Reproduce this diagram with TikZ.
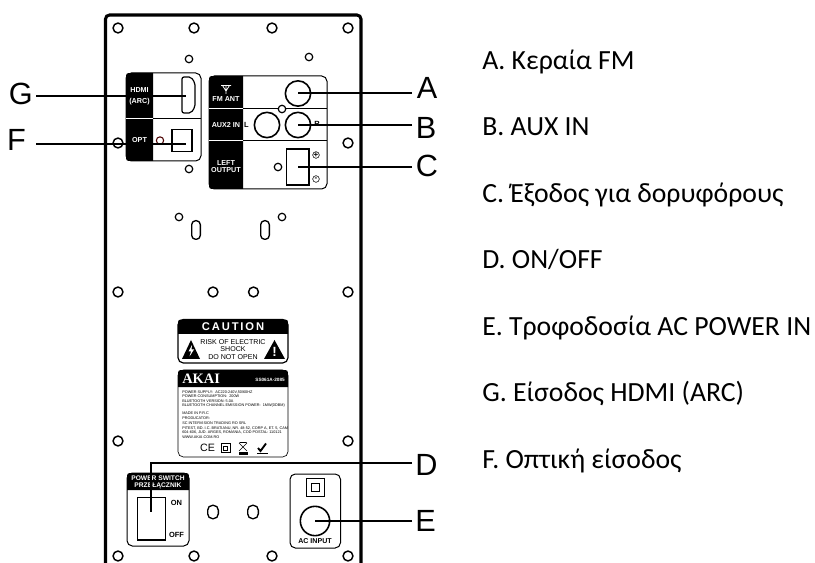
\documentclass[tikz,border=0pt]{standalone}
\usepackage{fontspec}
\setmainfont{Carlito}
\newfontfamily\arialfont{Liberation Sans}
\newfontfamily\akaifont{Liberation Serif}
\usepackage{tikz}
\begin{document}
\begin{tikzpicture}[
  x=0.75pt,y=-0.75pt,
  hole/.style={circle,draw=black,line width=1.1pt,fill=white,minimum size=7.4pt,inner sep=0pt},
  smallhole/.style={circle,draw=black,line width=0.9pt,fill=white,minimum size=5.6pt,inner sep=0pt},
  oblong/.style={rounded corners=3pt,draw=black,line width=1pt,fill=white,minimum width=6.5pt,minimum height=14pt,inner sep=0pt},
  roundslot/.style={rounded corners=3.6pt,draw=black,line width=1pt,fill=white,minimum width=8pt,minimum height=10pt,inner sep=0pt},
  port/.style={circle,draw=black,line width=1.2pt,fill=white,inner sep=0pt},
  panelbox/.style={rounded corners=4pt,draw=black,line width=0.75pt,fill=white},
  paneltext/.style={font=\arialfont\bfseries\fontsize{5.4}{5.4}\selectfont,text=white,align=center,inner sep=0pt},
  darktext/.style={font=\arialfont\bfseries\fontsize{5.6}{6}\selectfont,text=black,align=center,inner sep=0pt},
  letter/.style={font=\arialfont\fontsize{23}{24}\selectfont,inner sep=0pt},
  callout/.style={line width=1.5pt,draw=black},
  legend/.style={font=\fontsize{20.8}{24}\selectfont,anchor=base west,inner sep=0pt}
]
\useasboundingbox (0,0) rectangle (815,563);
% housing
\draw[line width=2.3pt,rounded corners=3pt] (105.5,563) -- (105.5,15) -- (361,15) -- (361,563);
% mounting holes
\foreach \hx/\hy [count=\hi] in {118/28,194/28,272/28,348/28,118/143,348/143,118/292,213/292,253.5/292,348/292,118/441,348/441,118/556,194/556,272/556,348/556}
  \node[hole] (hole\hi) at (\hx,\hy) {};
\foreach \hx/\hy [count=\hi] in {189/59,309/57,189/169}
  \node[smallhole] (pin\hi) at (\hx,\hy) {};
\node[smallhole] (slotpinl) at (179,217) {};
\node[smallhole] (slotpinr) at (282,217) {};
\node[oblong] (slotl) at (196,230) {};
\node[oblong] (slotr) at (265,230) {};
\node[roundslot] (slotc) at (213,512) {};
\node[roundslot] (slotd) at (253,512) {};
% HDMI and OPT plate
\draw[panelbox] (126,73) rectangle (201,161);
\fill[black] (153,73) -- (132,73) .. controls (126,73) .. (126,79) -- (126,155) .. controls (126,161) .. (132,161) -- (153,161) -- cycle;
\draw[white,line width=0.75pt] (126,119) -- (153,119);
\draw[line width=0.75pt] (153,119) -- (201,119);
\node[paneltext] (hdmilabel) at (139.5,96) {HDMI\\[3pt](ARC)};
\node[paneltext] (optlabel) at (139.5,140) {OPT};
\draw[line width=0.9pt,rounded corners=1.5pt] (182,77) -- (191,77) -- (195,83) -- (195,107) -- (191,113) -- (182,113) -- cycle;
\coordinate (hdmiport) at (186,96);
\node[draw=black,line width=0.9pt,minimum width=15pt,minimum height=16.5pt,inner sep=0pt] (optport) at (182,140.5) {};
\coordinate (optend) at (186,144);
\node[circle,draw=black!70!red,line width=0.8pt,minimum size=5.5pt,inner sep=0pt] (optled) at (160,140.5) {};
% FM, AUX and output plate
\draw[panelbox] (209,76) rectangle (327,189);
\fill[black] (243,76) -- (215,76) .. controls (209,76) .. (209,82) -- (209,183) .. controls (209,189) .. (215,189) -- (243,189) -- cycle;
\draw[white,line width=0.75pt] (209,109) -- (243,109);
\draw[white,line width=0.75pt] (209,141) -- (243,141);
\draw[line width=0.75pt] (243,109) -- (327,109);
\draw[line width=0.75pt] (243,141) -- (327,141);
\draw[white,line width=0.6pt] (226,94) -- (226,85.5) (221,85.5) -- (231,85.5) (222.5,85.5) -- (226,91) -- (229.5,85.5);
\node[paneltext] (fmlabel) at (226,99.5) {FM ANT};
\node[paneltext] (auxlabel) at (226,125) {AUX2 IN};
\node[paneltext] (outlabel) at (226,166.5) {LEFT\\OUTPUT};
\node[port,minimum size=19pt] (fmport) at (298,93.5) {};
\node[port,minimum size=19pt] (auxl) at (267,125) {};
\node[port,minimum size=19pt] (auxr) at (298,125) {};
\node[smallhole] (auxpin) at (282,109) {};
\node[darktext] (auxlmark) at (246.5,125) {L};
\node[darktext] (auxrmark) at (317,124) {R};
\node[smallhole] (outpin) at (278,167) {};
\node[draw=black,line width=1pt,minimum width=17pt,minimum height=27pt,inner sep=0pt] (outport) at (297.5,167) {};
\node[circle,draw=black,line width=0.4pt,minimum size=5pt,inner sep=0pt,font=\arialfont\bfseries\fontsize{6}{6}\selectfont] (plusmark) at (316,155) {+};
\node[circle,draw=black,line width=0.4pt,minimum size=5pt,inner sep=0pt,font=\arialfont\bfseries\fontsize{6}{6}\selectfont] (minusmark) at (316,179) {-};
% caution label
\draw[panelbox,line width=0.9pt] (178,319.5) rectangle (288,363);
\fill[black] (178,334) -- (178,325.5) .. controls (178,319.5) .. (184,319.5) -- (282,319.5) .. controls (288,319.5) .. (288,325.5) -- (288,334) -- cycle;
\node[font=\arialfont\bfseries\fontsize{8.4}{9}\selectfont,text=white,inner sep=0pt] (cautionhead) at (233,327) {C\,A\,U\,T\,I\,O\,N};
\node[font=\arialfont\fontsize{5.3}{5.6}\selectfont,align=center,inner sep=0pt] (cautiontext) at (233,349.5) {RISK OF ELECTRIC\\SHOCK\\DO NOT OPEN};
\fill (182,359) -- (191,340) -- (200,359) -- cycle;
\fill (264,359) -- (274.5,340) -- (285,359) -- cycle;
\fill[white] (192,345) -- (188.5,351.5) -- (191,351.5) -- (189.5,356.5) -- (194,349.5) -- (191.5,349.5) -- cycle;
\node[font=\arialfont\bfseries\fontsize{10}{10}\selectfont,text=white,inner sep=0pt] (warnmark) at (274.5,351.5) {!};
% rating label
\draw[panelbox,line width=0.5pt] (178,370) rectangle (288,457);
\fill[black] (178,387) -- (178,376) .. controls (178,370) .. (184,370) -- (282,370) .. controls (288,370) .. (288,376) -- (288,387) -- cycle;
\node[font=\akaifont\bfseries\fontsize{10.8}{11}\selectfont,text=white,anchor=west,inner sep=0pt] (brand) at (182,379) {AKAI};
\node[font=\arialfont\bfseries\fontsize{3.5}{4}\selectfont,text=white,anchor=east,inner sep=0pt] (modelno) at (285,380) {SS061A-2085};
\node[font=\arialfont\fontsize{2.85}{3.45}\selectfont,align=left,anchor=north west,inner sep=0pt] (ratingtext) at (182,390) {POWER SUPPLY:\ \ AC220-240V,50/60HZ\\POWER CONSUMPTION:\ \ 200W\\BLUETOOTH VERSION: 5.0A\\BLUETOOTH CHANNEL EMISSION POWER:\ \ 1MW(0DBM)\\[2.3pt]MADE IN P.R.C\\[0.6pt]PRODUCATOR:\\SC INTERVISION TRADING RO SRL\\PITEST, BD. I.C. BRATIANU, NR. 48-52, CORP A, ET. 5, CAM\\604-606, JUD. ARGES, ROMANIA, COD POSTAL: 110121\\WWW.AKAI.COM.RO};
\node[font=\arialfont\fontsize{8}{8}\selectfont,inner sep=0pt] (cemark) at (207.5,448) {CE};
\node[draw=black,line width=0.5pt,minimum size=6.5pt,inner sep=0pt] (classtwo) at (225.5,448) {};
\node[draw=black,line width=0.5pt,minimum size=3.2pt,inner sep=0pt] (classtwoin) at (225.5,448) {};
\draw[line width=0.5pt] (239,443) -- (247,451) (247,443) -- (239,451) (239.5,442.5) -- (246.5,442.5);
\fill (238.5,452) rectangle (248,454.5);
\draw[line width=1.4pt] (258,448) -- (260.5,451) -- (266,443.5);
\fill (256.5,452.5) rectangle (268,453.5);
% power switch plate
\draw[panelbox] (127,473) rectangle (189,546);
\fill[black] (127,490) -- (127,479) .. controls (127,473) .. (133,473) -- (183,473) .. controls (189,473) .. (189,479) -- (189,490) -- cycle;
\node[paneltext,font=\arialfont\bfseries\fontsize{5}{5.4}\selectfont] (switchhead) at (158,482) {POWER SWITCH\\PRZEŁĄCZNIK};
\node[draw=black,line width=1pt,minimum width=21pt,minimum height=32pt,inner sep=0pt] (switchbody) at (151.5,518.5) {};
\coordinate (switchend) at (151,512);
\node[darktext] (onlabel) at (176.5,502.5) {ON};
\node[darktext] (offlabel) at (176.5,534.5) {OFF};
% AC input plate
\draw[panelbox] (290,474) rectangle (340.5,548);
\node[draw=black,line width=0.7pt,minimum size=13.5pt,inner sep=0pt] (acouter) at (315,487.5) {};
\node[draw=black,line width=0.7pt,minimum size=6pt,inner sep=0pt] (acinner) at (315,487.5) {};
\node[port,minimum size=22pt] (acport) at (315,521) {};
\node[darktext,font=\arialfont\bfseries\fontsize{5.3}{6}\selectfont] (aclabel) at (315,541) {AC INPUT};
% callout letters
\node[letter,anchor=west] (lblA) at (416.5,88) {A};
\node[letter,anchor=west] (lblB) at (415.5,127.5) {B};
\node[letter,anchor=west] (lblC) at (415.5,166) {C};
\node[letter,anchor=west] (lblD) at (415,464.5) {D};
\node[letter,anchor=west] (lblE) at (415,521) {E};
\node[letter,anchor=east] (lblG) at (33,93.5) {G};
\node[letter,anchor=east] (lblF) at (26,140) {F};
\coordinate (startA) at (412,93.5);
\coordinate (startB) at (412,125);
\coordinate (startC) at (412,167);
\coordinate (startD) at (412,463);
\coordinate (startE) at (412,521);
\coordinate (startG) at (36,96);
\coordinate (startF) at (36,144);
\draw[callout] (startA) -- (fmport.center);
\draw[callout] (startB) -- (auxr.center);
\draw[callout] (startC) -- (outport.center);
\draw[callout] (startD) -- (151,463) -- (switchend);
\draw[callout] (startE) -- (acport.center);
\draw[callout] (startG) -- (hdmiport);
\draw[callout] (startF) -- (optend);
% legend
\node[legend] (itemA) at (482,70) {A. Κεραία FM};
\node[legend] (itemB) at (482,136) {B. AUX IN};
\node[legend] (itemC) at (482,202.5) {C. Έξοδος για δορυφόρους};
\node[legend] (itemD) at (482,268.5) {D. ON/OFF};
\node[legend] (itemE) at (482,335) {E. Τροφοδοσία AC POWER IN};
\node[legend] (itemG) at (482,402) {G. Είσοδος HDMI (ARC)};
\node[legend] (itemF) at (482,468) {F. Οπτική είσοδος};
\end{tikzpicture}
\end{document}
